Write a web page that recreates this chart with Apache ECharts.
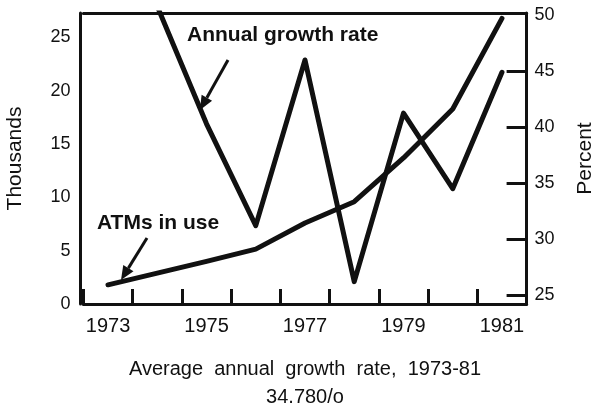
<!DOCTYPE html>
<html>
<head>
<meta charset="utf-8">
<script src="https://cdn.jsdelivr.net/npm/echarts@6/dist/echarts.min.js"></script>
<style>
  html, body { margin: 0; padding: 0; background: #fff; }
  #chart { width: 594px; height: 409px; }
</style>
</head>
<body>
<div id="chart"></div>
<script>
// data
const years = ['1973', '1974', '1975', '1976', '1977', '1978', '1979', '1980', '1981'];
const atmsInUse = [1.8, 2.9, 4.0, 5.15, 7.6, 9.6, 13.7, 18.3, 26.8]; // thousands
const growthRate = ['-', 50.8, 40.3, 31.2, 46.0, 26.2, 41.25, 34.5, 44.9]; // percent
const leftTicks = [0, 5, 10, 15, 20, 25];
const rightLabels = [25, 30, 35, 40, 45, 50];
const rightTicks = [25, 30, 35, 40, 45];

const ink = '#111';
const chart = echarts.init(document.getElementById('chart'));

// small arrow drawn as a line plus a filled head
function arrow(x1, y1, x2, y2) {
  const dx = x2 - x1, dy = y2 - y1;
  const len = Math.sqrt(dx * dx + dy * dy);
  const ux = dx / len, uy = dy / len;
  const bx = x2 - ux * 14, by = y2 - uy * 14;
  return [
    { type: 'line', shape: { x1: x1, y1: y1, x2: bx, y2: by },
      style: { stroke: ink, lineWidth: 3 } },
    { type: 'polygon',
      shape: { points: [[x2, y2], [bx - uy * 6, by + ux * 6], [bx + uy * 6, by - ux * 6]] },
      style: { fill: ink } }
  ];
}

const option = {
  backgroundColor: '#fff',
  animation: false,
  grid: { left: 83.4, right: 67.4, top: 13, bottom: 105, outerBoundsMode: 'none', containLabel: false },
  title: {
    text: 'Average  annual  growth  rate,  1973-81\n34.780/o',
    left: 300,
    top: 350,
    textAlign: 'center',
    textStyle: {
      fontFamily: 'Liberation Sans, Arial, sans-serif',
      fontSize: 20,
      fontWeight: 'normal',
      color: ink,
      lineHeight: 28
    }
  },
  xAxis: [
    {
      type: 'category',
      data: years,
      boundaryGap: true,
      position: 'bottom',
      axisLine: { show: true, lineStyle: { color: ink, width: 3 } },
      axisTick: { show: true, inside: true, length: 15, interval: 0, lineStyle: { color: ink, width: 3 } },
      axisLabel: {
        interval: 1,
        margin: 12,
        color: ink,
        fontSize: 20,
        fontFamily: 'Liberation Sans Narrow, Arial Narrow, Liberation Sans, sans-serif'
      },
      splitLine: { show: false }
    },
    {
      type: 'category',
      data: years,
      position: 'top',
      axisLine: { show: true, lineStyle: { color: ink, width: 3 } },
      axisTick: { show: false },
      axisLabel: { show: false },
      splitLine: { show: false }
    }
  ],
  yAxis: [
    {
      type: 'value',
      position: 'left',
      offset: 3,
      min: 0,
      max: 27.3,
      name: 'Thousands',
      nameLocation: 'middle',
      nameRotate: 90,
      nameGap: 55,
      nameTextStyle: { fontSize: 21, color: ink, fontFamily: 'Liberation Sans, Arial, sans-serif' },
      axisLine: { show: true, lineStyle: { color: ink, width: 3 } },
      axisTick: { show: false },
      axisLabel: {
        customValues: leftTicks,
        margin: 10,
        color: ink,
        fontSize: 18,
        fontFamily: 'Liberation Sans, Arial, sans-serif'
      },
      splitLine: { show: false }
    },
    {
      type: 'value',
      position: 'right',
      min: 24.2,
      max: 50.2,
      name: 'Percent',
      nameLocation: 'middle',
      nameRotate: 90,
      nameGap: 48,
      nameTextStyle: { fontSize: 21, color: ink, fontFamily: 'Liberation Sans, Arial, sans-serif' },
      axisLine: { show: true, lineStyle: { color: ink, width: 3 } },
      axisTick: {
        show: true,
        inside: true,
        length: 20,
        customValues: rightTicks,
        lineStyle: { color: ink, width: 3 }
      },
      axisLabel: {
        customValues: rightLabels,
        margin: 8,
        color: ink,
        fontSize: 18,
        fontFamily: 'Liberation Sans, Arial, sans-serif'
      },
      splitLine: { show: false }
    }
  ],
  series: [
    {
      name: 'ATMs in use',
      type: 'line',
      xAxisIndex: 0,
      yAxisIndex: 0,
      data: atmsInUse,
      showSymbol: false,
      symbol: 'none',
      lineStyle: { color: ink, width: 5, join: 'round', cap: 'round' }
    },
    {
      name: 'Annual growth rate',
      type: 'line',
      xAxisIndex: 0,
      yAxisIndex: 1,
      data: growthRate,
      showSymbol: false,
      symbol: 'none',
      clip: true,
      lineStyle: { color: ink, width: 5, join: 'round', cap: 'round' }
    }
  ],
  graphic: [
    {
      type: 'text',
      left: 187,
      top: 25,
      style: {
        text: 'Annual growth rate',
        font: 'bold 21px Liberation Sans, Arial, sans-serif',
        fill: ink
      }
    },
    {
      type: 'text',
      left: 97,
      top: 213,
      style: {
        text: 'ATMs in use',
        font: 'bold 21px Liberation Sans, Arial, sans-serif',
        fill: ink
      }
    }
  ].concat(arrow(228, 60, 200, 110), arrow(147, 238, 121, 280))
};

chart.setOption(option);
</script>
</body>
</html>
